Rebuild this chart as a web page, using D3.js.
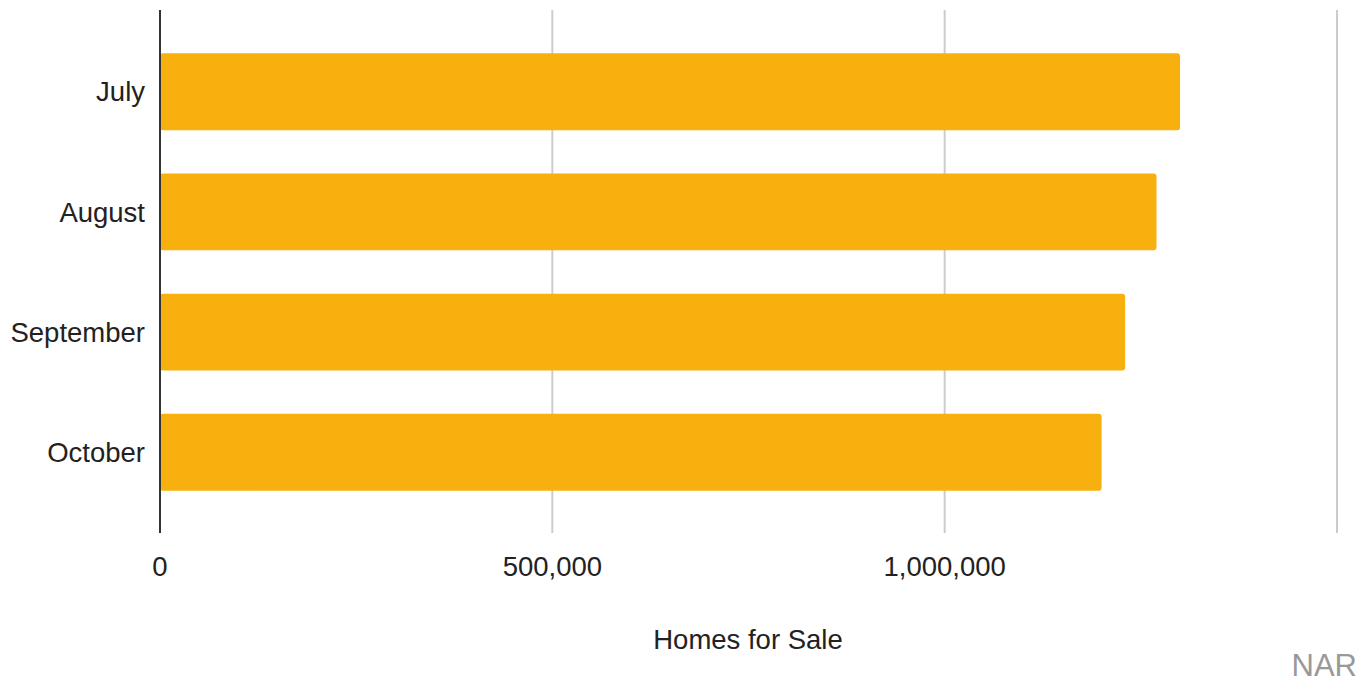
<!DOCTYPE html>
<html>
<head>
<meta charset="utf-8">
<script src="https://cdn.jsdelivr.net/npm/d3@7"></script>
<style>
  body { margin: 0; background: #fff; }
  svg { display: block; font-family: "Liberation Sans", Arial, sans-serif; }
</style>
</head>
<body>
<div id="chart"></div>
<script>
// homes for sale by month
const months = ["July", "August", "September", "October"];
const homesForSale = [1300000, 1270000, 1230000, 1200000];
const xTicks = [0, 500000, 1000000, 1500000];
const xTickLabels = ["0", "500,000", "1,000,000", ""];

const width = 1372;
const height = 683;
const margin = { top: 10, right: 35, bottom: 150, left: 160 };

const svg = d3.select("#chart")
  .append("svg")
  .attr("width", width)
  .attr("height", height);

const x = d3.scaleLinear()
  .domain([0, 1500000])
  .range([margin.left, width - margin.right]);

const y = d3.scaleBand()
  .domain(months)
  .range([margin.top, height - margin.bottom + 1])
  .padding(0.36);

// gridlines
svg.append("g")
  .selectAll("line")
  .data(xTicks.slice(1))
  .join("line")
  .attr("x1", d => x(d))
  .attr("x2", d => x(d))
  .attr("y1", margin.top)
  .attr("y2", height - margin.bottom)
  .attr("stroke", "#cccccc")
  .attr("stroke-width", 2);

// bars
svg.append("g")
  .selectAll("rect")
  .data(months)
  .join("rect")
  .attr("x", x(0))
  .attr("y", d => y(d))
  .attr("width", (d, i) => x(homesForSale[i]) - x(0))
  .attr("height", y.bandwidth())
  .attr("rx", 3)
  .attr("fill", "#f8b00e");

// vertical axis line
svg.append("line")
  .attr("x1", x(0))
  .attr("x2", x(0))
  .attr("y1", margin.top)
  .attr("y2", height - margin.bottom)
  .attr("stroke", "#333")
  .attr("stroke-width", 2);

// category labels
svg.append("g")
  .selectAll("text")
  .data(months)
  .join("text")
  .attr("x", x(0) - 15)
  .attr("y", d => y(d) + y.bandwidth() / 2)
  .attr("dy", "0.35em")
  .attr("text-anchor", "end")
  .attr("font-size", 27.5)
  .attr("fill", "#222")
  .text(d => d);

// x tick labels
svg.append("g")
  .selectAll("text")
  .data(xTicks)
  .join("text")
  .attr("x", d => x(d))
  .attr("y", 576)
  .attr("text-anchor", "middle")
  .attr("font-size", 27.5)
  .attr("fill", "#222")
  .text((d, i) => xTickLabels[i]);

// axis title
svg.append("text")
  .attr("x", 748)
  .attr("y", 649)
  .attr("text-anchor", "middle")
  .attr("font-size", 27.5)
  .attr("fill", "#222")
  .text("Homes for Sale");

// source
svg.append("text")
  .attr("x", 1357)
  .attr("y", 676)
  .attr("text-anchor", "end")
  .attr("font-size", 31)
  .attr("fill", "#999")
  .text("NAR");
</script>
</body>
</html>
